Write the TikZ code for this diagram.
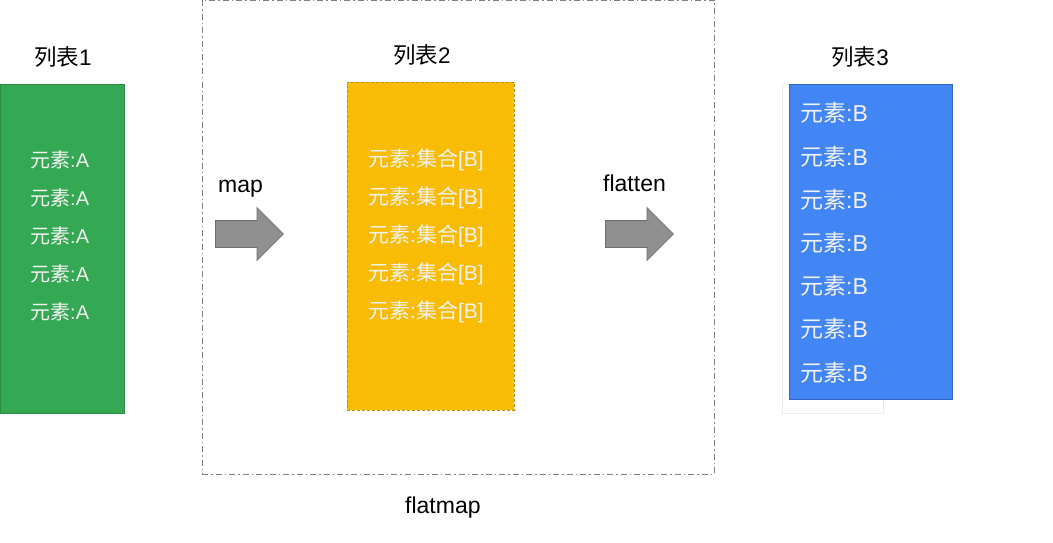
\documentclass[tikz,border=0pt]{standalone}
\usepackage{fontspec}
\setmainfont{Liberation Sans}
\newfontfamily\cjk{Noto Sans CJK SC}
\usepackage{tikz}
\usetikzlibrary{shapes.arrows}
\usepackage{xcolor}
\definecolor{lgreen}{HTML}{34A853}
\definecolor{lgreenedge}{HTML}{2B8A45}
\definecolor{lyellow}{HTML}{F9BC05}
\definecolor{lyellowedge}{HTML}{BF9000}
\definecolor{lblue}{HTML}{4285F4}
\definecolor{lblueedge}{HTML}{3465C0}
\definecolor{arrowgray}{HTML}{909090}
\definecolor{arrowedge}{HTML}{6E6E6E}
\definecolor{framegray}{HTML}{7F7F7F}
\definecolor{itemtxt}{HTML}{F2F2F2}
\newcommand{\elem}[1]{{\cjk 元素}:#1}
\newcommand{\lst}[1]{{\cjk 列表}#1}

\begin{document}
\begin{tikzpicture}[x=1pt, y=-1pt,
    box/.style={rectangle, line width=0.8pt, inner sep=0pt},
    item/.style={anchor=west, inner sep=0pt, text=itemtxt},
    ttl/.style={font=\fontsize{22.5}{26}\selectfont, inner sep=0pt},
    lbl/.style={anchor=base west, font=\fontsize{23}{27}\selectfont, inner sep=0pt},
    blk/.style={single arrow, draw=arrowedge, fill=arrowgray, line width=0.8pt,
                minimum height=68pt, inner xsep=0pt, inner ysep=13pt,
                single arrow head extend=13pt, anchor=tail}
]
\useasboundingbox (0,0) rectangle (1053,543);

% flatmap frame
\node[box, draw=framegray, dash pattern=on 6pt off 3pt on 1.5pt off 3pt,
      minimum width=512pt, minimum height=474pt] (frame) at (458,237) {};
\node[lbl] (fmlbl) at (405,513) {flatmap};

% list 1
\node[ttl] (t1) at (63,57) {\lst{1}};
\node[box, draw=lgreenedge, fill=lgreen, minimum width=124pt, minimum height=329pt] (l1) at (62,248.5) {};
\node[item, font=\fontsize{20}{24}\selectfont] (g1) at (30,160) {\elem{A}};
\node[item, font=\fontsize{20}{24}\selectfont] (g2) at (30,198) {\elem{A}};
\node[item, font=\fontsize{20}{24}\selectfont] (g3) at (30,236) {\elem{A}};
\node[item, font=\fontsize{20}{24}\selectfont] (g4) at (30,274) {\elem{A}};
\node[item, font=\fontsize{20}{24}\selectfont] (g5) at (30,312) {\elem{A}};

% map
\node[lbl] (maplbl) at (218,192) {map};
\node[blk] (marrow) at (215,234) {};

% list 2
\node[ttl] (t2) at (422,55) {\lst{2}};
\node[box, draw=lyellowedge, dash pattern=on 3pt off 2pt, fill=lyellow,
      minimum width=167pt, minimum height=328pt] (l2) at (430.5,246) {};
\node[item, font=\fontsize{21}{25}\selectfont] (y1) at (368,160) {\elem{{\cjk 集合}[B]}};
\node[item, font=\fontsize{21}{25}\selectfont] (y2) at (368,198) {\elem{{\cjk 集合}[B]}};
\node[item, font=\fontsize{21}{25}\selectfont] (y3) at (368,236) {\elem{{\cjk 集合}[B]}};
\node[item, font=\fontsize{21}{25}\selectfont] (y4) at (368,274) {\elem{{\cjk 集合}[B]}};
\node[item, font=\fontsize{21}{25}\selectfont] (y5) at (368,312) {\elem{{\cjk 集合}[B]}};

% flatten
\node[lbl] (fllbl) at (603,191) {flatten};
\node[blk] (farrow) at (605,234) {};

% list 3
\node[ttl] (t3) at (860,57) {\lst{3}};
\node[box, draw=black!8, fill=white, minimum width=101pt, minimum height=329pt] (sh) at (832.5,248.5) {};
\node[box, draw=lblueedge, fill=lblue, minimum width=163pt, minimum height=315pt] (l3) at (870.5,241.5) {};
\node[item, font=\fontsize{23}{27}\selectfont] (b1) at (800,113) {\elem{B}};
\node[item, font=\fontsize{23}{27}\selectfont] (b2) at (800,157) {\elem{B}};
\node[item, font=\fontsize{23}{27}\selectfont] (b3) at (800,200) {\elem{B}};
\node[item, font=\fontsize{23}{27}\selectfont] (b4) at (800,243) {\elem{B}};
\node[item, font=\fontsize{23}{27}\selectfont] (b5) at (800,286) {\elem{B}};
\node[item, font=\fontsize{23}{27}\selectfont] (b6) at (800,329) {\elem{B}};
\node[item, font=\fontsize{23}{27}\selectfont] (b7) at (800,373) {\elem{B}};
\end{tikzpicture}
\end{document}
